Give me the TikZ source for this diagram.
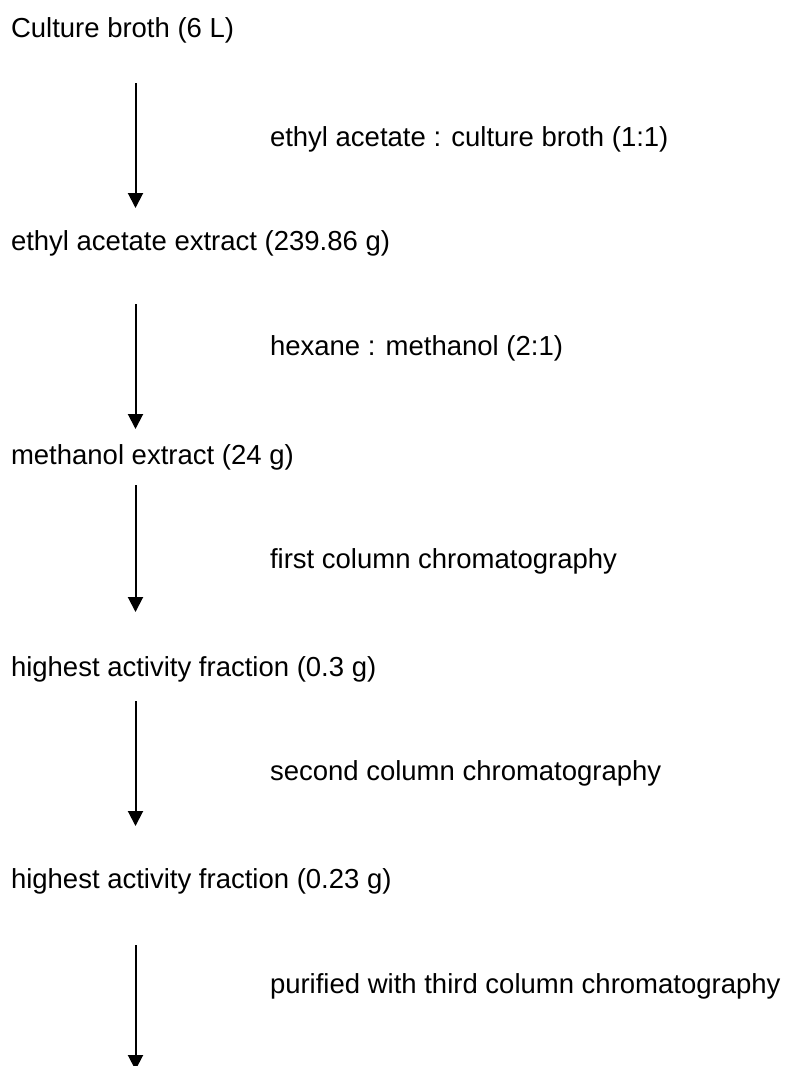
\documentclass[tikz,border=0pt]{standalone}
\usepackage{fontspec}
\setmainfont{Liberation Sans}
\usetikzlibrary{arrows.meta}
\begin{document}
\begin{tikzpicture}[x=1bp,y=-1bp,
  every node/.style={inner sep=0pt,outer sep=0pt,anchor=base west,
    font=\fontsize{27.5bp}{33bp}\selectfont},
  flow/.style={line width=2bp,-{Triangle[width=15bp,length=15bp]}}]
\useasboundingbox (0,0) rectangle (795,1066);
% stages
\node (s1) at (11,37) {Culture broth (6 L)};
\node (s2) at (11,250) {ethyl acetate extract (239.86 g)};
\node (s3) at (11,464) {methanol extract (24 g)};
\node (s4) at (11,676) {highest activity fraction (0.3 g)};
\node (s5) at (11,888) {highest activity fraction (0.23 g)};
% step labels
\node (l1) at (270,146) {ethyl acetate : culture broth (1:1)};
\node (l2) at (270,355) {hexane : methanol (2:1)};
\node (l3) at (270,568) {first column chromatography};
\node (l4) at (270,780) {second column chromatography};
\node (l5) at (270,993) {purified with third column chromatography};
% arrow endpoints
\coordinate (a1s) at (135.5,83);  \coordinate (a1e) at (135.5,208);
\coordinate (a2s) at (135.5,304); \coordinate (a2e) at (135.5,429);
\coordinate (a3s) at (135.5,485); \coordinate (a3e) at (135.5,612);
\coordinate (a4s) at (135.5,701); \coordinate (a4e) at (135.5,826);
\coordinate (a5s) at (135.5,945); \coordinate (a5e) at (135.5,1070);
\draw[flow] (a1s) -- (a1e);
\draw[flow] (a2s) -- (a2e);
\draw[flow] (a3s) -- (a3e);
\draw[flow] (a4s) -- (a4e);
\draw[flow] (a5s) -- (a5e);
\end{tikzpicture}
\end{document}
